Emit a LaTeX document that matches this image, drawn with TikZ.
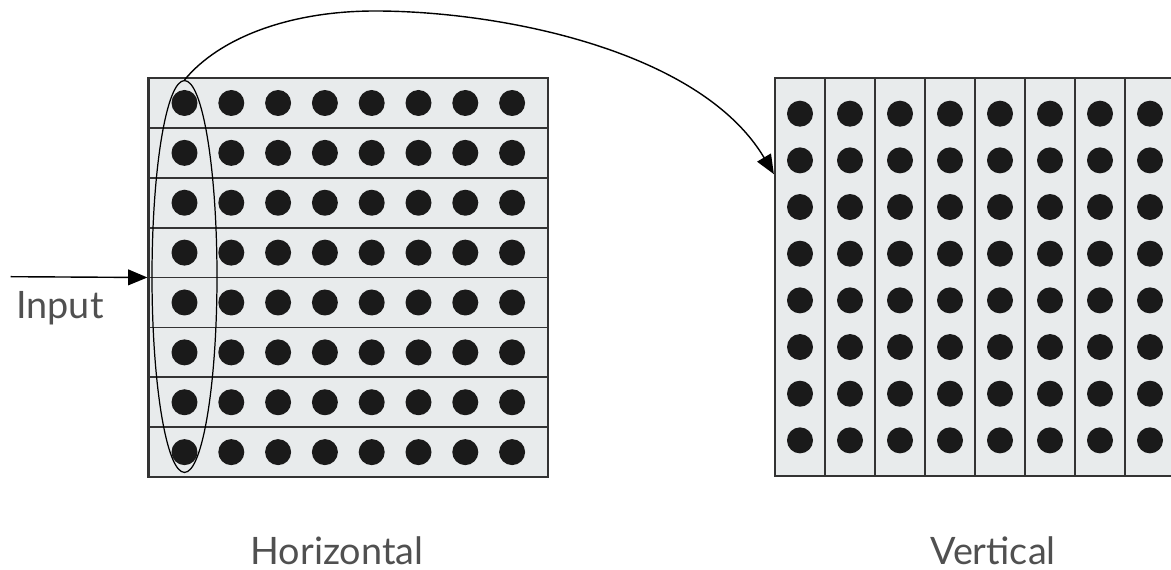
\documentclass[tikz,border=0pt]{standalone}
\usepackage{fontspec}
\setmainfont{Lato}
\usetikzlibrary{shapes.geometric, arrows.meta, positioning, calc}

\definecolor{panel}{RGB}{232,235,236}
\definecolor{edge}{RGB}{51,51,51}
\definecolor{dotfill}{RGB}{26,26,26}
\definecolor{labelgrey}{RGB}{80,80,80}

\begin{document}
\begin{tikzpicture}[x=0.02cm, y=-0.02cm,
  row/.style={rectangle, draw=edge, line width=1pt, fill=panel,
              minimum width=7.99cm, minimum height=0.9975cm, inner sep=0},
  col/.style={rectangle, draw=edge, line width=1pt, fill=panel,
              minimum width=1cm, minimum height=7.96cm, inner sep=0},
  frame/.style={rectangle, draw=edge, line width=1.3pt, inner sep=0},
  dot/.style={circle, fill=dotfill, minimum size=0.52cm, inner sep=0},
  lbl/.style={text=labelgrey, inner sep=0, font=\fontsize{21.5}{25}\selectfont},
  arrow/.style={-{Triangle[length=11pt, width=9pt]}, line width=0.8pt}
]
\useasboundingbox (0,0) rectangle (1171,570);

% horizontal layout: one strip per row
\foreach \i in {0,...,7} {
  \node[row] (r\i) at (348.25, 103+49.875*\i) {};
  \foreach \j in {0,...,7}
    \node[dot] (h\i\j) at (184.5+46.8*\j, 103+49.875*\i) {};
}
\node[frame, minimum width=7.99cm, minimum height=7.98cm] (lgrid) at (348.25, 277.5) {};

% vertical layout: one strip per column
\foreach \j in {0,...,7} {
  \node[col] (c\j) at (800+50*\j, 277) {};
  \foreach \i in {0,...,7}
    \node[dot] (v\i\j) at (800+50*\j, 113.7+46.67*\i) {};
}
\node[frame, minimum width=8cm, minimum height=7.96cm] (rgrid) at (975, 277) {};

% first column picked out
\node[ellipse, draw=black, line width=0.7pt, minimum width=1.3cm,
      minimum height=7.84cm, inner sep=0] (sel) at (184.5, 276.5) {};

\coordinate (src) at (10.7, 276.7);
\coordinate (peak) at (375, 11);
\coordinate (tip) at ($(rgrid.north west)!0.243!(rgrid.south west)$);

\draw[arrow] (src) -- (lgrid.west);
\draw[arrow] (sel.north) .. controls (219.5, 37.5) and (290, 11) .. (peak)
  .. controls (500, 11) and (700, 50) .. (tip);

\node[lbl, anchor=base west] (inp) at (16, 319) {Input};
\node[lbl, anchor=base] (hlbl) at (337, 565) {Horizontal};
\node[lbl, anchor=base] (vlbl) at (993, 565) {Vertical};
\end{tikzpicture}
\end{document}
